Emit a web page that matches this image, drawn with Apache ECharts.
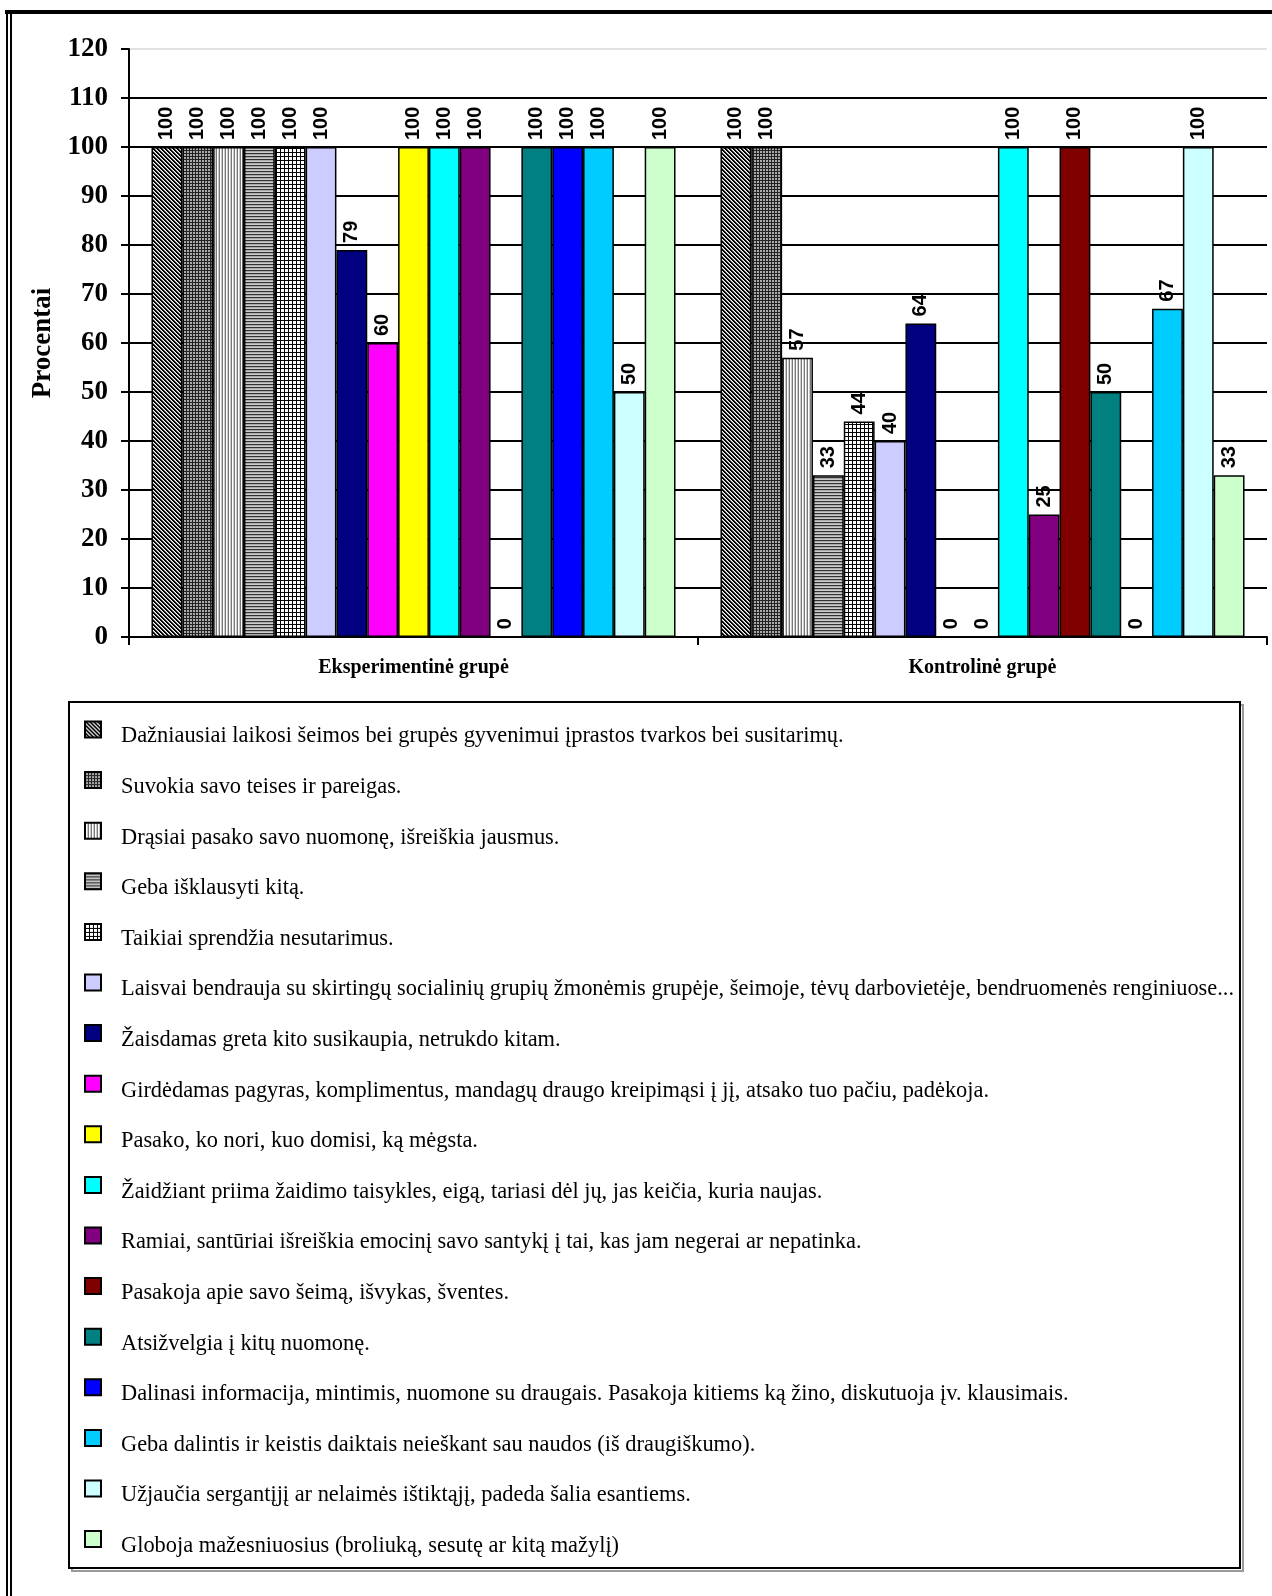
<!DOCTYPE html>
<html><head><meta charset="utf-8">
<script src="https://cdn.jsdelivr.net/npm/echarts@6/dist/echarts.min.js"></script>
<style>html,body{margin:0;padding:0;background:#fff}#c{width:1272px;height:1596px}</style>
</head><body><div id="c"></div>
<script>
const categories = ['Eksperimentinė grupė', 'Kontrolinė grupė'];
const seriesNames = [
  'Dažniausiai laikosi šeimos bei grupės gyvenimui įprastos tvarkos bei susitarimų.',
  'Suvokia savo teises ir pareigas.',
  'Drąsiai pasako savo nuomonę, išreiškia jausmus.',
  'Geba išklausyti kitą.',
  'Taikiai sprendžia nesutarimus.',
  'Laisvai bendrauja su skirtingų socialinių grupių žmonėmis grupėje, šeimoje, tėvų darbovietėje, bendruomenės renginiuose...',
  'Žaisdamas greta kito susikaupia, netrukdo kitam.',
  'Girdėdamas pagyras, komplimentus, mandagų draugo kreipimąsi į jį, atsako tuo pačiu, padėkoja.',
  'Pasako, ko nori, kuo domisi, ką mėgsta.',
  'Žaidžiant priima žaidimo taisykles, eigą, tariasi dėl jų, jas keičia, kuria naujas.',
  'Ramiai, santūriai išreiškia emocinį savo santykį į tai, kas jam negerai ar nepatinka.',
  'Pasakoja apie savo šeimą, išvykas, šventes.',
  'Atsižvelgia į kitų nuomonę.',
  'Dalinasi informacija, mintimis, nuomone su draugais. Pasakoja kitiems ką žino, diskutuoja įv. klausimais.',
  'Geba dalintis ir keistis daiktais neieškant sau naudos (iš draugiškumo).',
  'Užjaučia sergantįjį ar nelaimės ištiktąjį, padeda šalia esantiems.',
  'Globoja mažesniuosius (broliuką, sesutę ar kitą mažylį)'
];
const experimental = [100, 100, 100, 100, 100, 100, 79, 60, 100, 100, 100, 0, 100, 100, 100, 50, 100];
const control      = [100, 100, 57, 33, 44, 40, 64, 0, 0, 100, 25, 100, 50, 0, 67, 100, 33];
const yMin = 0, yMax = 120, yStep = 10;
const solidColors = [null, null, null, null, null, '#CCCCFF', '#000080', '#FF00FF', '#FFFF00', '#00FFFF',
  '#800080', '#800000', '#008080', '#0000FF', '#00CCFF', '#CCFFFF', '#CCFFCC'];

function makePattern(w, h, fn) {
  const cv = document.createElement('canvas');
  cv.width = w; cv.height = h;
  const ctx = cv.getContext('2d');
  for (let y = 0; y < h; y++) for (let x = 0; x < w; x++) {
    ctx.fillStyle = fn(x, y); ctx.fillRect(x, y, 1, 1);
  }
  return { image: cv, repeat: 'repeat' };
}
const patterns = [
  makePattern(4, 4, (x, y) => ((x - y + 8) % 4 < 2 ? '#000' : (x + y) % 2 ? '#fff' : '#999')),
  makePattern(3, 3, (x, y) => (x === 0 || y === 0 ? '#222' : '#aaa')),
  makePattern(3, 1, (x) => (x === 0 ? '#777' : x === 1 ? '#fff' : '#ccc')),
  makePattern(1, 3, (x, y) => (y === 0 ? '#333' : y === 1 ? '#aaa' : '#ccc')),
  makePattern(4, 4, (x, y) => (x === 0 || y === 0 ? '#000' : '#fff'))
];

const series = seriesNames.map((name, i) => ({
  name,
  type: 'bar',
  data: [experimental[i], control[i]],
  barGap: '0%',
  barCategoryGap: '7.9%',
  itemStyle: { color: i < 5 ? patterns[i] : solidColors[i], borderColor: '#000', borderWidth: 1.5 },
  label: {
    show: true, position: 'top', rotate: 90, align: 'left', verticalAlign: 'middle', distance: 7,
    fontFamily: '"Liberation Sans", Arial, sans-serif', fontWeight: 'bold', fontSize: 20, color: '#000'
  }
}));

const splitColors = [];
for (let v = yMin; v <= yMax; v += yStep) splitColors.push(v === yMax ? '#e2e2e2' : '#000');

const chart = echarts.init(document.getElementById('c'), null, { renderer: 'canvas' });
chart.setOption({
  animation: false,
  backgroundColor: '#fff',
  grid: { left: 129, right: 5, top: 49, bottom: 959, containLabel: false },
  xAxis: {
    type: 'category', data: categories,
    axisLine: { lineStyle: { color: '#000', width: 2 } },
    axisTick: { show: true, length: 8, lineStyle: { color: '#000', width: 2 } },
    axisLabel: { margin: 21, fontFamily: '"Liberation Serif", "Times New Roman", serif', fontWeight: 'bold', fontSize: 20, color: '#000' },
    splitLine: { show: false }
  },
  yAxis: {
    type: 'value', min: yMin, max: yMax, interval: yStep,
    name: 'Procentai', nameLocation: 'middle', nameRotate: 90, nameGap: 70,
    nameTextStyle: { fontFamily: '"Liberation Serif", "Times New Roman", serif', fontWeight: 'bold', fontSize: 27, color: '#000' },
    axisLine: { show: true, lineStyle: { color: '#000', width: 2 } },
    axisTick: { show: true, length: 8, lineStyle: { color: '#000', width: 2 } },
    axisLabel: { margin: 21, fontFamily: '"Liberation Serif", "Times New Roman", serif', fontWeight: 'bold', fontSize: 27, color: '#000' },
    splitLine: { show: true, lineStyle: { color: splitColors, width: 2 } }
  },
  legend: {
    orient: 'vertical', left: 84, top: 711.5, padding: 0,
    itemWidth: 16, itemHeight: 16, itemGap: 14.6,
    selectedMode: false, icon: 'rect',
    data: seriesNames,
    formatter: name => '\n' + name,
    textStyle: {
      fontFamily: '"Liberation Serif", "Times New Roman", serif', fontSize: 22.4, lineHeight: 14,
      color: '#000', padding: [0, 0, 0, 15]
    }
  },
  graphic: [
    { type: 'rect', z: -1, shape: { x: 72, y: 705, width: 1171, height: 866 }, style: { fill: null, stroke: '#9a9a9a', lineWidth: 2 } },
    { type: 'rect', z: -1, shape: { x: 69, y: 702, width: 1171, height: 866 }, style: { fill: '#fff', stroke: '#000', lineWidth: 2 } },
    { type: 'line', shape: { x1: 5, y1: 12, x2: 1272, y2: 12 }, style: { stroke: '#000', lineWidth: 4 } },
    { type: 'line', shape: { x1: 7, y1: 10, x2: 7, y2: 1596 }, style: { stroke: '#000', lineWidth: 2 } },
    { type: 'line', shape: { x1: 11, y1: 12, x2: 11, y2: 1596 }, style: { stroke: '#000', lineWidth: 2 } }
  ],
  series
});
</script></body></html>
